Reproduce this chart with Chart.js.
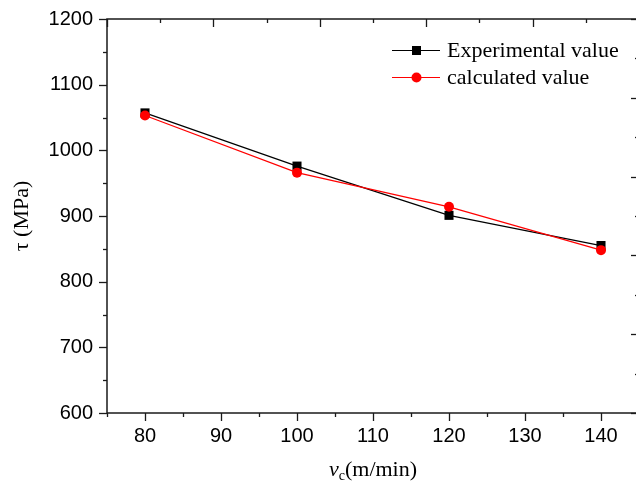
<!DOCTYPE html>
<html>
<head>
<meta charset="utf-8">
<script src="https://cdn.jsdelivr.net/npm/chart.js@4"></script>
<style>
html, body { margin: 0; padding: 0; background: #fff; overflow: hidden; }
#wrap { width: 636px; height: 484px; overflow: hidden; position: relative; }
canvas { display: block; }
</style>
</head>
<body>
<div id="wrap"><canvas id="tauChart" width="640" height="484"></canvas></div>
<script>
// cutting speed vc (m/min) and shear stress tau (MPa)
const speeds = [80, 100, 120, 140];
const experimental = [1057, 976, 901, 855];
const calculated = [1053, 966, 914, 848];
const xTicks = [80, 90, 100, 110, 120, 130, 140];
const yTicks = [600, 700, 800, 900, 1000, 1100, 1200];
const twinTicks = [0, 1, 2, 3, 4, 5, 6, 7, 8, 9, 10];

const serif = '"Liberation Serif", "Times New Roman", serif';
const sans = '"Liberation Sans", Arial, sans-serif';
const axisColor = '#1a1a1a';

// no extra room for label overhang, the layout padding decides the plot box
const noPadding = s => {
    s.paddingTop = 0;
    s.paddingBottom = 0;
    s.paddingLeft = 0;
    s.paddingRight = 0;
};

// frame, tick marks, legend and x title
const framePlugin = {
    id: 'frame',
    afterDraw(chart) {
        const ctx = chart.ctx;
        const a = chart.chartArea;
        const sx = chart.scales.x, sy = chart.scales.y;
        const tx = chart.scales.x2, ty = chart.scales.y2;

        ctx.save();
        ctx.strokeStyle = axisColor;
        ctx.lineWidth = 1.5;
        ctx.strokeRect(a.left, a.top, a.right - a.left, a.bottom - a.top);

        ctx.lineWidth = 1.3;
        const tick = (x1, y1, x2, y2) => {
            ctx.beginPath();
            ctx.moveTo(x1, y1);
            ctx.lineTo(x2, y2);
            ctx.stroke();
        };

        // bottom axis, ticks outward
        xTicks.forEach(v => {
            const px = Math.round(sx.getPixelForValue(v)) + 0.5;
            tick(px, a.bottom, px, a.bottom + 8);
        });
        [75, 85, 95, 105, 115, 125, 135, 145].forEach(v => {
            const px = Math.round(sx.getPixelForValue(v)) + 0.5;
            tick(px, a.bottom, px, a.bottom + 4);
        });

        // left axis, ticks outward
        yTicks.forEach(v => {
            const py = Math.round(sy.getPixelForValue(v)) + 0.5;
            tick(a.left - 8, py, a.left, py);
        });
        [650, 750, 850, 950, 1050, 1150].forEach(v => {
            const py = Math.round(sy.getPixelForValue(v)) + 0.5;
            tick(a.left - 4, py, a.left, py);
        });

        // top and right twin axes, ticks inward
        twinTicks.forEach(v => {
            const len = v % 2 === 0 ? 8 : 4;
            const px = Math.round(tx.getPixelForValue(v)) + 0.5;
            tick(px, a.top, px, a.top + len);
            const py = Math.round(ty.getPixelForValue(v)) + 0.5;
            tick(a.right - len, py, a.right, py);
        });

        // legend
        const rows = [
            { label: 'Experimental value', color: '#000', shape: 'rect', y: 50 },
            { label: 'calculated value', color: '#ff0000', shape: 'circle', y: 77 }
        ];
        rows.forEach(r => {
            ctx.strokeStyle = r.color;
            ctx.fillStyle = r.color;
            ctx.lineWidth = 1.2;
            tick(392, r.y + 0.5, 440, r.y + 0.5);
            if (r.shape === 'rect') {
                ctx.fillRect(412, r.y - 4, 9, 9);
            } else {
                ctx.beginPath();
                ctx.arc(416.5, r.y + 0.5, 5, 0, Math.PI * 2);
                ctx.fill();
            }
            ctx.fillStyle = '#000';
            ctx.font = '22px ' + serif;
            ctx.textBaseline = 'alphabetic';
            ctx.textAlign = 'left';
            ctx.fillText(r.label, 447, r.y + 7);
        });

        // x title: vc(m/min) with subscript
        ctx.fillStyle = '#000';
        ctx.textBaseline = 'alphabetic';
        ctx.textAlign = 'left';
        const partV = 'v', partC = 'c', partU = '(m/min)';
        ctx.font = 'italic 22px ' + serif;
        const wV = ctx.measureText(partV).width;
        ctx.font = '14px ' + serif;
        const wC = ctx.measureText(partC).width;
        ctx.font = '22px ' + serif;
        const wU = ctx.measureText(partU).width;
        const x0 = (a.left + a.right) / 2 - (wV + wC + wU) / 2;
        const base = 476;
        ctx.font = 'italic 22px ' + serif;
        ctx.fillText(partV, x0, base);
        ctx.font = '14px ' + serif;
        ctx.fillText(partC, x0 + wV, base + 4);
        ctx.font = '22px ' + serif;
        ctx.fillText(partU, x0 + wV + wC, base);
        ctx.restore();
    }
};

const toPoints = ys => speeds.map((x, i) => ({ x: x, y: ys[i] }));

new Chart(document.getElementById('tauChart').getContext('2d'), {
    type: 'line',
    data: {
        datasets: [{
            label: 'Experimental value',
            data: toPoints(experimental),
            borderColor: '#000',
            backgroundColor: '#000',
            borderWidth: 1.2,
            pointStyle: 'rect',
            pointRadius: 6.4,
            pointBorderWidth: 0,
            pointBackgroundColor: '#000',
            order: 2
        }, {
            label: 'calculated value',
            data: toPoints(calculated),
            borderColor: '#ff0000',
            backgroundColor: '#ff0000',
            borderWidth: 1.2,
            pointStyle: 'circle',
            pointRadius: 5,
            pointBorderWidth: 0,
            pointBackgroundColor: '#ff0000',
            order: 1
        }]
    },
    options: {
        responsive: false,
        animation: false,
        layout: { autoPadding: false, padding: { top: 19, right: 1, left: 0, bottom: 0 } },
        plugins: {
            legend: { display: false },
            tooltip: { enabled: false }
        },
        scales: {
            x: {
                type: 'linear',
                position: 'bottom',
                min: 75,
                max: 145,
                grid: { display: false, drawTicks: false },
                border: { display: false },
                afterBuildTicks: s => { s.ticks = xTicks.map(v => ({ value: v })); },
                afterFit: s => { s.height = 71; noPadding(s); },
                ticks: {
                    padding: 11,
                    color: '#000',
                    font: { family: sans, size: 20 },
                    callback: v => String(v)
                }
            },
            y: {
                type: 'linear',
                position: 'left',
                min: 600,
                max: 1200,
                grid: { display: false, drawTicks: false },
                border: { display: false },
                afterBuildTicks: s => { s.ticks = yTicks.map(v => ({ value: v })); },
                afterFit: s => { s.width = 107; noPadding(s); },
                ticks: {
                    padding: 14,
                    color: '#000',
                    font: { family: sans, size: 20 },
                    callback: v => String(v)
                },
                title: {
                    display: true,
                    text: 'τ (MPa)',
                    color: '#000',
                    font: { family: serif, size: 22 },
                    padding: { top: 9, bottom: 0 }
                }
            },
            x2: {
                type: 'linear',
                position: 'top',
                min: 0,
                max: 10,
                grid: { display: false, drawTicks: false },
                border: { display: false },
                ticks: { display: false },
                afterBuildTicks: s => { s.ticks = twinTicks.map(v => ({ value: v })); },
                afterFit: s => { s.height = 0; noPadding(s); }
            },
            y2: {
                type: 'linear',
                position: 'right',
                min: 0,
                max: 10,
                grid: { display: false, drawTicks: false },
                border: { display: false },
                ticks: { display: false },
                afterBuildTicks: s => { s.ticks = twinTicks.map(v => ({ value: v })); },
                afterFit: s => { s.width = 0; noPadding(s); }
            }
        }
    },
    plugins: [framePlugin]
});
</script>
</body>
</html>
